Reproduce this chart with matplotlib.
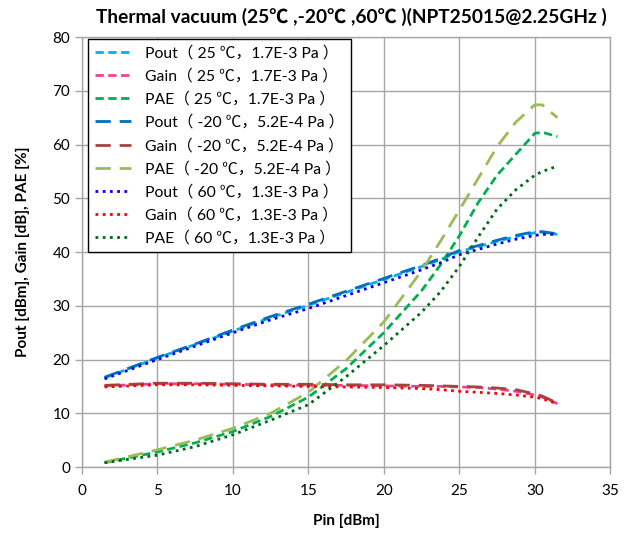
import matplotlib
matplotlib.use("Agg")
import matplotlib.pyplot as plt

FONT = ['Lato', 'Noto Sans CJK SC', 'DejaVu Sans']
plt.rcParams['font.family'] = FONT

pin = [1.5, 5, 7.5, 10, 12.5, 15, 17.5, 20, 22.5, 23.75, 25, 26.25, 27.5, 28.75, 30, 30.5, 31.5]

pout_25 = [16.6, 20.3, 22.8, 25.3, 27.8, 30.1, 32.5, 34.9, 37.3, 38.6, 40.1, 41.0, 42.0, 42.9, 43.6, 43.7, 43.3]
gain_25 = [15.1, 15.5, 15.5, 15.4, 15.3, 15.2, 15.2, 15.1, 15.0, 15.0, 14.9, 14.8, 14.5, 14.1, 13.4, 13.0, 11.8]
pae_25 = [0.8, 2.8, 4.5, 6.6, 9.4, 13.0, 18.3, 25.0, 32.8, 37.6, 43.0, 49.2, 54.3, 58.2, 62.1, 62.3, 61.5]

pout_m20 = [16.7, 20.4, 22.9, 25.5, 28.0, 30.3, 32.7, 35.1, 37.5, 38.8, 40.3, 41.2, 42.2, 43.1, 43.8, 43.8, 43.4]
gain_m20 = [15.2, 15.6, 15.6, 15.5, 15.4, 15.4, 15.3, 15.3, 15.2, 15.1, 15.0, 14.9, 14.7, 14.4, 13.6, 13.2, 11.9]
pae_m20 = [0.9, 3.2, 5.0, 7.2, 10.0, 13.9, 19.8, 27.0, 36.5, 42.0, 47.8, 53.7, 59.6, 64.2, 67.4, 67.4, 65.0]

pout_60 = [16.4, 20.0, 22.5, 25.0, 27.4, 29.5, 31.9, 34.3, 36.7, 38.0, 39.5, 40.5, 41.5, 42.4, 43.1, 43.3, 43.3]
gain_60 = [14.9, 15.3, 15.3, 15.2, 15.1, 15.0, 14.9, 14.8, 14.6, 14.4, 14.1, 13.9, 13.7, 13.4, 13.0, 12.7, 11.8]
pae_60 = [0.8, 2.2, 3.8, 6.0, 8.7, 11.6, 16.8, 22.6, 28.8, 32.6, 37.3, 42.8, 48.0, 51.6, 54.3, 55.0, 56.0]

labels = [
    "Pout（ 25 ℃，1.7E-3 Pa ）",
    "Gain（ 25 ℃，1.7E-3 Pa ）",
    "PAE（ 25 ℃，1.7E-3 Pa ）",
    "Pout（ -20 ℃，5.2E-4 Pa ）",
    "Gain（ -20 ℃，5.2E-4 Pa ）",
    "PAE（ -20 ℃，5.2E-4 Pa ）",
    "Pout（ 60 ℃，1.3E-3 Pa ）",
    "Gain（ 60 ℃，1.3E-3 Pa ）",
    "PAE（ 60 ℃，1.3E-3 Pa ）",
]
series = [pout_25, gain_25, pae_25, pout_m20, gain_m20, pae_m20, pout_60, gain_60, pae_60]
colors = ['#00B0F0', '#F0409A', '#00B050', '#0070C0', '#A5443F', '#9BBB59', '#0000FF', '#FF0000', '#006A1A']
dash_short = (3, 1.6)
dash_long = (5.5, 3.2)
dot = (1, 1.6)
styles = [dash_short] * 3 + [dash_long] * 3 + [dot] * 3

fig = plt.figure(figsize=(6.35, 5.36), dpi=100)
ax = fig.add_axes([0.129, 0.1287, 0.832, 0.802])

for y, c, d, lab in zip(series, colors, styles, labels):
    ax.plot(pin, y, color=c, lw=2.0, dashes=d, label=lab, dash_capstyle='butt')

ax.set_xlim(0, 35)
ax.set_ylim(0, 80)
ax.set_xticks(range(0, 36, 5))
ax.set_yticks(range(0, 81, 10))
ax.grid(True, color='#A6A6A6', lw=1.0)
ax.set_axisbelow(True)
for s in ax.spines.values():
    s.set_color('#A6A6A6')
    s.set_linewidth(1.0)
ax.tick_params(axis='both', colors='#A6A6A6', labelcolor='black', labelsize=11, length=5, width=1)
ax.tick_params(axis='x', pad=7)

ax.set_xlabel("Pin [dBm]", fontsize=11, fontweight='bold', labelpad=12)
ax.set_ylabel("Pout [dBm], Gain [dB], PAE [%]", fontsize=11, fontweight='bold', labelpad=16)
fig.text(0.553, 0.968, "Thermal vacuum (25℃ ,-20℃ ,60℃ )(NPT25015@2.25GHz )",
         ha='center', va='center', fontsize=13.8, fontweight='bold', family=FONT)

leg = ax.legend(loc='upper left', bbox_to_anchor=(0.008, 1.0), fontsize=11.3,
                frameon=True, fancybox=False, edgecolor='black', framealpha=1,
                handlelength=2.3, handletextpad=0.9, borderpad=0.45, labelspacing=0.52,
                borderaxespad=0.1)
leg.get_frame().set_linewidth(1.0)

fig.savefig("out.png", dpi=100)
